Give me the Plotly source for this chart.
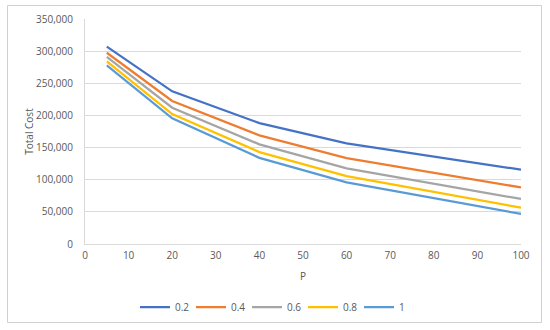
import plotly.graph_objects as go

P = [5, 20, 40, 60, 100]
series_names = ["0.2", "0.4", "0.6", "0.8", "1"]
cost_02 = [307000, 237500, 188000, 156600, 115600]
cost_04 = [297500, 222500, 169000, 133700, 88000]
cost_06 = [291000, 212000, 155000, 117700, 70000]
cost_08 = [284000, 202000, 143000, 105700, 56500]
cost_1 = [278000, 195500, 134000, 96000, 46700]
colors = ["#4472C4", "#ED7D31", "#A5A5A5", "#FFC000", "#5B9BD5"]

fig = go.Figure()
for name, vals, c in zip(series_names, [cost_02, cost_04, cost_06, cost_08, cost_1], colors):
    fig.add_trace(go.Scatter(x=P, y=vals, mode="lines", name=name,
                             line=dict(color=c, width=2.25)))

font_col = "#595959"
fig.update_layout(
    width=550, height=330,
    paper_bgcolor="white", plot_bgcolor="white",
    margin=dict(l=85, r=29, t=19, b=86, autoexpand=False),
    font=dict(family="Open Sans", size=10, color=font_col),
    showlegend=True,
    legend=dict(orientation="h", xref="container", yref="container",
                x=0.5, xanchor="center", y=1 - 307 / 330, yanchor="middle",
                entrywidth=11, entrywidthmode="pixels",
                font=dict(size=10, color=font_col)),
    xaxis=dict(range=[0, 100], dtick=10, tick0=0, showgrid=False,
               showline=True, linecolor="#D9D9D9", linewidth=1,
               zeroline=False, ticks="outside", ticklen=2, tickcolor="rgba(0,0,0,0)",
               title=dict(text="P", standoff=11, font=dict(size=10, color=font_col))),
    yaxis=dict(range=[0, 350000], dtick=50000, tickformat=",", showgrid=True,
               gridcolor="#D9D9D9", gridwidth=1, showline=True, linecolor="#D9D9D9",
               zeroline=False, ticks="outside", ticklen=9, tickcolor="rgba(0,0,0,0)",
               title=dict(text="Total Cost", standoff=0, font=dict(size=10, color=font_col))),
    shapes=[dict(type="rect", xref="paper", yref="paper",
                 x0=(7.5 - 85) / 436, x1=(541.5 - 85) / 436,
                 y0=(244 - 322.5) / 225, y1=(244 - 5.5) / 225,
                 line=dict(color="#D0D0D0", width=1), fillcolor="rgba(0,0,0,0)",
                 layer="below")],
)

fig.write_html("out.html", config={"displayModeBar": False},
               post_script="document.body.style.margin='0';")
